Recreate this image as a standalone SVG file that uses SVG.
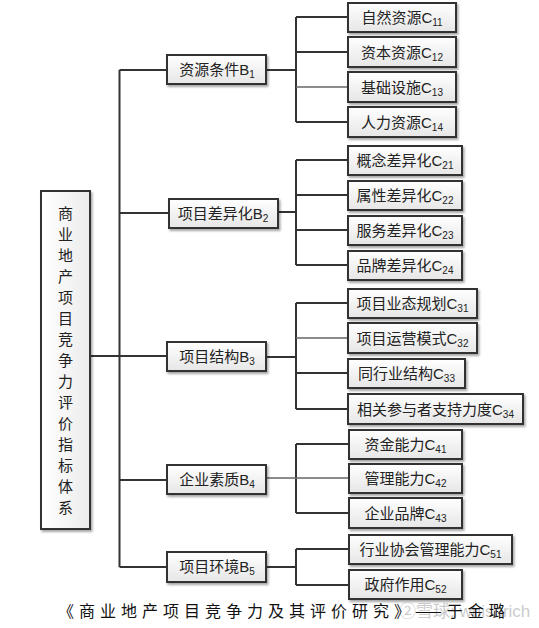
<svg xmlns="http://www.w3.org/2000/svg" width="539" height="628" viewBox="0 0 539 628">
<defs>
<linearGradient id="g" x1="0" y1="0" x2="0" y2="1">
<stop offset="0" stop-color="#ffffff"/>
<stop offset="1" stop-color="#e6e6e6"/>
</linearGradient>
<linearGradient id="gr" x1="0" y1="0" x2="1" y2="0">
<stop offset="0" stop-color="#ffffff"/>
<stop offset="1" stop-color="#ececec"/>
</linearGradient>
<filter id="sh" x="-10%" y="-10%" width="130%" height="140%">
<feDropShadow dx="1.5" dy="2" stdDeviation="0.8" flood-color="#000" flood-opacity="0.35"/>
</filter>
</defs>
<style>
.box{fill:url(#g);stroke:#333;stroke-width:2;filter:url(#sh)}
.root{fill:url(#gr);stroke:#333;stroke-width:2;filter:url(#sh)}
.t{font-family:"Noto Sans CJK SC","Liberation Sans",sans-serif;font-size:15px;fill:#222;text-anchor:middle}
.s{font-size:10px;font-family:"Liberation Sans","Noto Sans CJK SC",sans-serif}
.L{font-family:"Liberation Sans",sans-serif}
.c{stroke:#333;stroke-width:2;fill:none}
.c2{stroke:#666;stroke-width:1.5;fill:none}
.cap{font-family:"Noto Sans CJK SC",serif;font-size:16px;fill:#111;letter-spacing:5px}
.wm{font-family:"Liberation Sans","Noto Sans CJK SC",sans-serif;font-size:17px;fill:#cccccc}
</style>
<rect width="539" height="628" fill="#ffffff"/>
<g id="connectors">
<path class="c" d="M90 356H119.5M119.5 70V567M119.5 70H167M119.5 213H169M119.5 356H167M119.5 480H167M119.5 567H167"/>
<path class="c" d="M266 70H296M296 17V122M296 17H348M296 52H348M296 122H348"/>
<path class="c2" d="M296 87H348"/>
<path class="c" d="M278 212H296M296 160V265M296 160H348M296 195H348M296 230H348M296 265H348"/>
<path class="c" d="M266 357H296M296 303V409M296 303H348M296 373H348M296 409H348"/>
<path class="c2" d="M296 338H348"/>
<path class="c" d="M296 444V513M296 444H349M296 513H349"/>
<path class="c2" d="M266 478H349"/>
<path class="c" d="M266 567H296M296 549V585M296 549H349M296 585H349"/>
</g>
<g id="A">
<rect class="root" x="41" y="191" width="49" height="338"/>
<text class="t" x="65.5" font-size="16">
<tspan x="65.5" y="219">商</tspan><tspan x="65.5" y="240">业</tspan><tspan x="65.5" y="261">地</tspan><tspan x="65.5" y="282">产</tspan><tspan x="65.5" y="303">项</tspan><tspan x="65.5" y="324">目</tspan><tspan x="65.5" y="345">竞</tspan><tspan x="65.5" y="366">争</tspan><tspan x="65.5" y="387">力</tspan><tspan x="65.5" y="408">评</tspan><tspan x="65.5" y="429">价</tspan><tspan x="65.5" y="450">指</tspan><tspan x="65.5" y="471">标</tspan><tspan x="65.5" y="492">体</tspan><tspan x="65.5" y="513">系</tspan>
</text>
</g>
<g id="B1"><rect class="box" x="167" y="55" width="99" height="29"/><text class="t" x="217" y="75">资源条件<tspan class="L">B</tspan><tspan class="s" dy="3">1</tspan></text></g>
<g id="B2"><rect class="box" x="169" y="199" width="109" height="29"/><text class="t" x="223" y="219">项目差异化<tspan class="L">B</tspan><tspan class="s" dy="3">2</tspan></text></g>
<g id="B3"><rect class="box" x="167" y="342" width="99" height="29"/><text class="t" x="217" y="362">项目结构<tspan class="L">B</tspan><tspan class="s" dy="3">3</tspan></text></g>
<g id="B4"><rect class="box" x="167" y="465" width="99" height="29"/><text class="t" x="217" y="485">企业素质<tspan class="L">B</tspan><tspan class="s" dy="3">4</tspan></text></g>
<g id="B5"><rect class="box" x="167" y="552" width="99" height="30"/><text class="t" x="217" y="572">项目环境<tspan class="L">B</tspan><tspan class="s" dy="3">5</tspan></text></g>

<g id="C11"><rect class="box" x="348" y="3" width="108" height="29"/><text class="t" x="402" y="23">自然资源<tspan class="L">C</tspan><tspan class="s" dy="3">11</tspan></text></g>
<g id="C12"><rect class="box" x="348" y="37" width="108" height="30"/><text class="t" x="402" y="58">资本资源<tspan class="L">C</tspan><tspan class="s" dy="3">12</tspan></text></g>
<g id="C13"><rect class="box" x="348" y="72" width="108" height="30"/><text class="t" x="402" y="93">基础设施<tspan class="L">C</tspan><tspan class="s" dy="3">13</tspan></text></g>
<g id="C14"><rect class="box" x="348" y="107" width="108" height="30"/><text class="t" x="402" y="128">人力资源<tspan class="L">C</tspan><tspan class="s" dy="3">14</tspan></text></g>

<g id="C21"><rect class="box" x="348" y="146" width="114" height="29"/><text class="t" x="405" y="166">概念差异化<tspan class="L">C</tspan><tspan class="s" dy="3">21</tspan></text></g>
<g id="C22"><rect class="box" x="348" y="181" width="114" height="29"/><text class="t" x="405" y="201">属性差异化<tspan class="L">C</tspan><tspan class="s" dy="3">22</tspan></text></g>
<g id="C23"><rect class="box" x="348" y="216" width="114" height="29"/><text class="t" x="405" y="236">服务差异化<tspan class="L">C</tspan><tspan class="s" dy="3">23</tspan></text></g>
<g id="C24"><rect class="box" x="348" y="251" width="114" height="29"/><text class="t" x="405" y="271">品牌差异化<tspan class="L">C</tspan><tspan class="s" dy="3">24</tspan></text></g>

<g id="C31"><rect class="box" x="348" y="289" width="129" height="29"/><text class="t" x="412.5" y="309">项目业态规划<tspan class="L">C</tspan><tspan class="s" dy="3">31</tspan></text></g>
<g id="C32"><rect class="box" x="348" y="323" width="129" height="30"/><text class="t" x="412.5" y="344">项目运营模式<tspan class="L">C</tspan><tspan class="s" dy="3">32</tspan></text></g>
<g id="C33"><rect class="box" x="348" y="359" width="117" height="29"/><text class="t" x="406.5" y="379">同行业结构<tspan class="L">C</tspan><tspan class="s" dy="3">33</tspan></text></g>
<g id="C34"><rect class="box" x="348" y="394" width="175" height="30"/><text class="t" x="435.5" y="415">相关参与者支持力度<tspan class="L">C</tspan><tspan class="s" dy="3">34</tspan></text></g>

<g id="C41"><rect class="box" x="349" y="430" width="113" height="29"/><text class="t" x="405.5" y="450">资金能力<tspan class="L">C</tspan><tspan class="s" dy="3">41</tspan></text></g>
<g id="C42"><rect class="box" x="349" y="464" width="113" height="29"/><text class="t" x="405.5" y="484">管理能力<tspan class="L">C</tspan><tspan class="s" dy="3">42</tspan></text></g>
<g id="C43"><rect class="box" x="349" y="498" width="113" height="30"/><text class="t" x="405.5" y="519">企业品牌<tspan class="L">C</tspan><tspan class="s" dy="3">43</tspan></text></g>

<g id="C51"><rect class="box" x="349" y="535" width="163" height="29"/><text class="t" x="430.5" y="555">行业协会管理能力<tspan class="L">C</tspan><tspan class="s" dy="3">51</tspan></text></g>
<g id="C52"><rect class="box" x="349" y="570" width="113" height="29"/><text class="t" x="405.5" y="590">政府作用<tspan class="L">C</tspan><tspan class="s" dy="3">52</tspan></text></g>

<text class="wm" x="399" y="617">②雪球: whishrich</text>
<text class="cap" x="58" y="617">《商业地产项目竞争力及其评价研究》——于金璐</text>
</svg>
